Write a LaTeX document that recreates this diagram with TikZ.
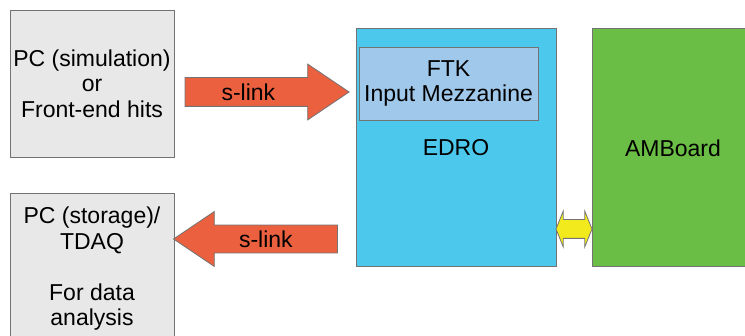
\documentclass[tikz,border=0pt]{standalone}
\usepackage{fontspec}
\setmainfont{Liberation Sans}
\usepackage{tikz}
\usetikzlibrary{calc}
\usetikzlibrary{shapes.arrows}

\definecolor{boxgray}{HTML}{E8E8E8}
\definecolor{slinkred}{HTML}{EB613F}
\definecolor{edroblue}{HTML}{4CC8EC}
\definecolor{ftkblue}{HTML}{A0C8EA}
\definecolor{amgreen}{HTML}{6BBE45}
\definecolor{busyellow}{HTML}{F2EA1C}

\tikzset{
	board/.style={draw=black!55, line width=0.8pt, rectangle, inner sep=0pt},
	slink/.style={single arrow, draw=black!55, line width=0.8pt, fill=slinkred,
		inner sep=0pt, minimum height=164, minimum width=55,
		single arrow head extend=13.5, single arrow tip angle=68},
	txt/.style={font=\fontsize{23}{25.5}\selectfont, align=center, inner sep=0pt}
}

\begin{document}
\begin{tikzpicture}[x=1pt,y=-1pt]
			\useasboundingbox (0,0) rectangle (745,336);

			% PCs on the left
			\node[board, fill=boxgray, minimum width=164, minimum height=147] (pcsim) at (92,83.5) {};
			\node[txt] (pcsimtxt) at (pcsim.center) {PC (simulation)\\or\\Front-end hits};
			\node[board, fill=boxgray, minimum width=164, minimum height=152] (pcstore) at (92,269) {};
			\node[txt] (pcstoretxt) at (pcstore.center) {PC (storage)/\\TDAQ\\[25.5pt]For data\\analysis};

			% boards
			\node[board, fill=edroblue, minimum width=200, minimum height=238] (edro) at (456,147) {};
			\node[txt] (edrotxt) at ($(edro.center)+(0,1)$) {EDRO};
			\node[board, fill=ftkblue, minimum width=179, minimum height=73] (ftk) at (448.5,83.5) {};
			\node[txt] (ftktxt) at (ftk.center) {FTK\\Input Mezzanine};
			\node[board, fill=amgreen, minimum width=170, minimum height=238] (amb) at (677,147) {};
			\node[txt] (ambtxt) at (673,148) {AMBoard};

			% s-links
			\node[slink] (linkin) at ($(pcsim.east)+(82,8.5)$) {\rule{0pt}{28pt}};
			\node[txt] (linkintxt) at ($(linkin.center)+(-8,0)$) {s-link};
			\node[slink, shape border rotate=180] (linkout) at ($(pcstore.east)+(91.5,-30)$) {\rule{0pt}{27pt}};
			\node[txt] (linkouttxt) at (linkout.center) {s-link};

			% EDRO <-> AMBoard
			\node[double arrow, draw=black!55, line width=0.8pt, fill=busyellow, inner sep=0pt,
				minimum height=36, minimum width=35, double arrow head extend=8.5,
				double arrow tip angle=136] (bus) at ($(edro.east)!0.5!(amb.west)+(0,82)$) {\rule{0pt}{18pt}};

		\end{tikzpicture}
\end{document}
